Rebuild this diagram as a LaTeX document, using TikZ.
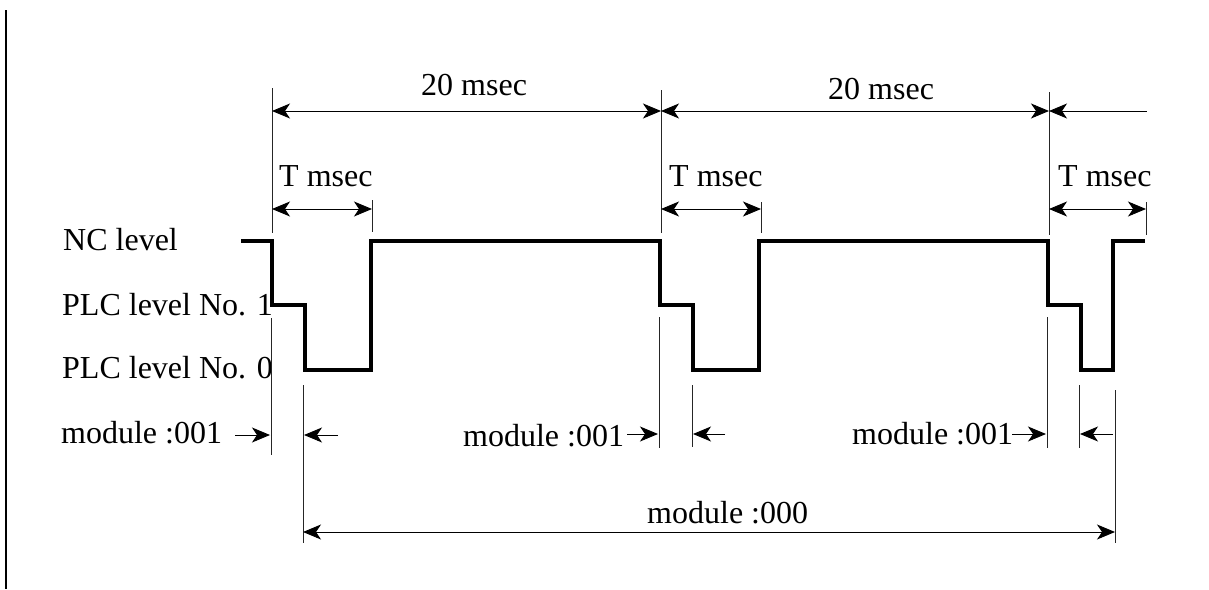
\documentclass[tikz,border=0pt]{standalone}
\usepackage{fontspec}
\setmainfont{Liberation Serif}
\usetikzlibrary{arrows.meta}
\tikzset{
  >={Stealth[length=18pt,width=15pt,inset=5pt]},
  wave/.style={line width=4.5pt, line join=miter},
  extline/.style={line width=0.9pt, draw=black!85},
  dimline/.style={line width=0.9pt, black, <->},
  dimright/.style={line width=0.9pt, black, ->},
  dimleft/.style={line width=0.9pt, black, <-},
  lbl/.style={anchor=base west, inner sep=0pt, font=\fontsize{32}{38}\selectfont},
}
\begin{document}
\begin{tikzpicture}[x=1pt,y=-1pt]
\useasboundingbox (0,0) rectangle (1209,589);
% left border line
\coordinate (bt) at (6,10);
\coordinate (bb) at (6,589);
\draw[line width=1.8pt] (bt) -- (bb);

% labels
\node[lbl] (nc) at (63,250) {NC level};
\node[lbl] (plc1) at (62,315) {PLC level No. 1};
\node[lbl] (plc0) at (62,378) {PLC level No. 0};
\node[lbl] (m1) at (61,443) {module :001};
\node[lbl] (m2) at (463,446) {module :001};
\node[lbl] (m3) at (852,444) {module :001};
\node[lbl] (m0) at (647,523) {module :000};
\node[lbl] (t20a) at (421,95) {20 msec};
\node[lbl] (t20b) at (828,99) {20 msec};
\node[lbl] (ta) at (279,186) {T msec};
\node[lbl] (tb) at (669,186) {T msec};
\node[lbl] (tc) at (1058,186) {T msec};

% waveform
\draw[wave] (241,241) -- (272,241) -- (272,305) -- (305,305) -- (305,370) -- (371,370) -- (371,241)
  -- (660,241) -- (660,305) -- (693,305) -- (693,370) -- (759,370) -- (759,241)
  -- (1048,241) -- (1048,305) -- (1081,305) -- (1081,370) -- (1113,370) -- (1113,241) -- (1145,241);

% extension lines (top)
\coordinate (e1t) at (272,88);  \coordinate (e1b) at (272,233);
\coordinate (e2t) at (661,90);  \coordinate (e2b) at (661,233);
\coordinate (e3t) at (1049,92); \coordinate (e3b) at (1049,235);
\coordinate (f1t) at (372,200); \coordinate (f1b) at (372,232);
\coordinate (f2t) at (761,202); \coordinate (f2b) at (761,233);
\coordinate (f3t) at (1146,202); \coordinate (f3b) at (1146,235);
\foreach \a in {1,2,3} {
  \draw[extline] (e\a t) -- (e\a b);
  \draw[extline] (f\a t) -- (f\a b);
}

% 20 msec dimensions
\coordinate (d1) at (272,111); \coordinate (d2) at (661,111); \coordinate (d3) at (1049,111); \coordinate (d4) at (1147,111);
\draw[dimline] (d1) -- (d2);
\draw[dimline] (d2) -- (d3);
\draw[dimleft] (d3) -- (d4);

% T msec dimensions
\coordinate (s1a) at (272,209); \coordinate (s1b) at (372,209);
\coordinate (s2a) at (661,209); \coordinate (s2b) at (761,209);
\coordinate (s3a) at (1049,209); \coordinate (s3b) at (1146,209);
\draw[dimline] (s1a) -- (s1b);
\draw[dimline] (s2a) -- (s2b);
\draw[dimline] (s3a) -- (s3b);

% module extension lines
\coordinate (g1t) at (271,318); \coordinate (g1b) at (271,455);
\coordinate (h1t) at (303,385); \coordinate (h1b) at (303,543);
\coordinate (g2t) at (659,317); \coordinate (g2b) at (659,448);
\coordinate (h2t) at (692,385); \coordinate (h2b) at (692,447);
\coordinate (g3t) at (1047,317); \coordinate (g3b) at (1047,448);
\coordinate (h3t) at (1079,385); \coordinate (h3b) at (1079,448);
\coordinate (k3t) at (1115,390); \coordinate (k3b) at (1115,543);
\draw[extline] (g1t) -- (g1b);
\draw[extline] (h1t) -- (h1b);
\draw[extline] (g2t) -- (g2b);
\draw[extline] (h2t) -- (h2b);
\draw[extline] (g3t) -- (g3b);
\draw[extline] (h3t) -- (h3b);
\draw[extline] (k3t) -- (k3b);

% module :001 arrows
\coordinate (a1s) at (235,435); \coordinate (a1e) at (270,435);
\coordinate (b1s) at (338,435); \coordinate (b1e) at (304,435);
\coordinate (a2s) at (627,434); \coordinate (a2e) at (658,434);
\coordinate (b2s) at (725,434); \coordinate (b2e) at (693,434);
\coordinate (a3s) at (1012,434); \coordinate (a3e) at (1046,434);
\coordinate (b3s) at (1113,434); \coordinate (b3e) at (1080,434);
\draw[dimright] (a1s) -- (a1e);
\draw[dimright] (b1s) -- (b1e);
\draw[dimright] (a2s) -- (a2e);
\draw[dimright] (b2s) -- (b2e);
\draw[dimright] (a3s) -- (a3e);
\draw[dimright] (b3s) -- (b3e);

% module :000
\coordinate (m0a) at (303,532); \coordinate (m0b) at (1115,532);
\draw[dimline] (m0a) -- (m0b);
\end{tikzpicture}
\end{document}
